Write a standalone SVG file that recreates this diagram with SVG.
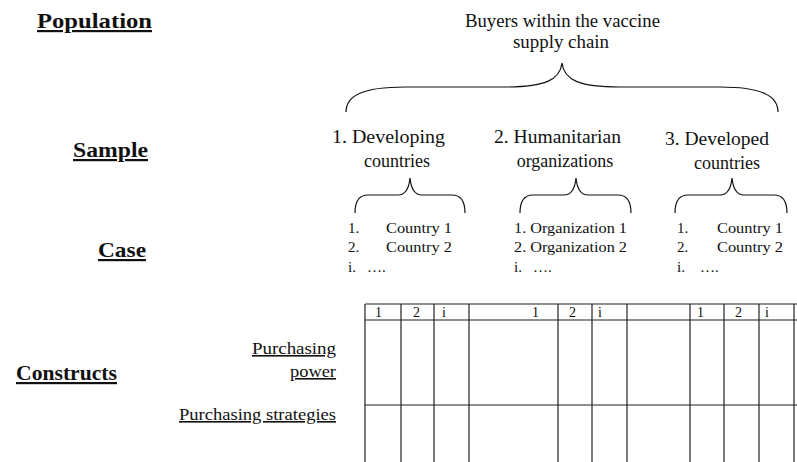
<svg xmlns="http://www.w3.org/2000/svg" width="797" height="462" viewBox="0 0 797 462">
<style>
  text { font-family: "Liberation Serif", "Times New Roman", serif; fill: #111; }
  .lbl { font-weight: bold; font-size: 22px; text-decoration: underline; }
  .con { font-size: 16px; text-decoration: underline; }
  .node { font-size: 18px; }
  .item { font-size: 15px; }
  .hdr { font-size: 14px; }
  .brace { fill: none; stroke: #111; stroke-width: 1.2; }
  .grid line { stroke: #222; stroke-width: 1.2; }
</style>
<rect width="797" height="462" fill="#fff"/>

<g id="row-labels">
  <text class="lbl" x="37" y="28" textLength="115" lengthAdjust="spacingAndGlyphs">Population</text>
  <text class="lbl" x="73" y="157" textLength="75" lengthAdjust="spacingAndGlyphs">Sample</text>
  <text class="lbl" x="98" y="257" textLength="48" lengthAdjust="spacingAndGlyphs">Case</text>
  <text class="lbl" x="16" y="380" textLength="101" lengthAdjust="spacingAndGlyphs">Constructs</text>
</g>

<g id="population">
  <text class="node" x="465" y="27" textLength="195" lengthAdjust="spacingAndGlyphs">Buyers within the vaccine</text>
  <text class="node" x="513" y="48" textLength="96" lengthAdjust="spacingAndGlyphs">supply chain</text>
</g>

<g id="sample-developing">
  <text class="node" x="332" y="143" textLength="113" lengthAdjust="spacingAndGlyphs">1. Developing</text>
  <text class="node" x="397" y="167" text-anchor="middle">countries</text>
</g>
<g id="sample-humanitarian">
  <text class="node" x="494" y="143" textLength="127" lengthAdjust="spacingAndGlyphs">2. Humanitarian</text>
  <text class="node" x="565" y="167" text-anchor="middle">organizations</text>
</g>
<g id="sample-developed">
  <text class="node" x="665" y="145" textLength="104" lengthAdjust="spacingAndGlyphs">3. Developed</text>
  <text class="node" x="727" y="169" text-anchor="middle">countries</text>
</g>

<g id="case-developing">
  <text class="item" x="348" y="233">1.</text>
  <text class="item" x="386" y="233" textLength="66" lengthAdjust="spacingAndGlyphs">Country 1</text>
  <text class="item" x="348" y="252">2.</text>
  <text class="item" x="386" y="252" textLength="66" lengthAdjust="spacingAndGlyphs">Country 2</text>
  <text class="item" x="348" y="272">i.</text>
  <text class="item" x="367" y="272">….</text>
</g>
<g id="case-humanitarian">
  <text class="item" x="514" y="233" textLength="113" lengthAdjust="spacingAndGlyphs">1. Organization 1</text>
  <text class="item" x="514" y="252" textLength="113" lengthAdjust="spacingAndGlyphs">2. Organization 2</text>
  <text class="item" x="514" y="272">i.</text>
  <text class="item" x="533" y="272">….</text>
</g>
<g id="case-developed">
  <text class="item" x="677" y="233">1.</text>
  <text class="item" x="717" y="233" textLength="66" lengthAdjust="spacingAndGlyphs">Country 1</text>
  <text class="item" x="677" y="252">2.</text>
  <text class="item" x="717" y="252" textLength="66" lengthAdjust="spacingAndGlyphs">Country 2</text>
  <text class="item" x="677" y="272">i.</text>
  <text class="item" x="700" y="272">….</text>
</g>

<g id="constructs">
  <text class="con" x="336" y="354" text-anchor="end" textLength="84" lengthAdjust="spacingAndGlyphs">Purchasing</text>
  <text class="con" x="336" y="377" text-anchor="end" textLength="46" lengthAdjust="spacingAndGlyphs">power</text>
  <text class="con" x="179" y="420" textLength="157" lengthAdjust="spacingAndGlyphs">Purchasing strategies</text>
</g>

<g id="connectors">
  <path class="brace" d="M346,112 C346,96 362,87 405,87 L505,87 C545,87 560,80 562,63 C564,80 579,87 620,87 L720,87 C762,87 778,96 778,112"/>
  <path class="brace" d="M355,213 C355,202 358,195 368,195 L398,195 C406,195 409,188 410,178 C411,188 414,195 422,195 L452,195 C462,195 465,202 465,213"/>
  <path class="brace" d="M520,213 C520,202 523,195 533,195 L564,195 C572,195 575,188 576,178 C577,188 580,195 588,195 L618,195 C628,195 631,202 631,213"/>
  <path class="brace" d="M675,213 C675,202 678,195 688,195 L720,195 C728,195 731,188 732,178 C733,188 736,195 744,195 L774,195 C784,195 787,202 787,213"/>
</g>

<g id="table" class="grid">
  <line x1="365" y1="304" x2="797" y2="304"/>
  <line x1="365" y1="320" x2="797" y2="320"/>
  <line x1="365" y1="405" x2="797" y2="405"/>
  <line x1="365" y1="304" x2="365" y2="462"/>
  <line x1="401" y1="304" x2="401" y2="462"/>
  <line x1="434" y1="304" x2="434" y2="462"/>
  <line x1="469" y1="304" x2="469" y2="462"/>
  <line x1="558" y1="304" x2="558" y2="462"/>
  <line x1="592" y1="304" x2="592" y2="462"/>
  <line x1="627" y1="304" x2="627" y2="462"/>
  <line x1="690" y1="304" x2="690" y2="462"/>
  <line x1="724" y1="304" x2="724" y2="462"/>
  <line x1="759" y1="304" x2="759" y2="462"/>
  <line x1="794" y1="304" x2="794" y2="462"/>
</g>
<g id="table-header">
  <text class="hdr" x="375" y="317">1</text>
  <text class="hdr" x="413" y="317">2</text>
  <text class="hdr" x="442" y="317">i</text>
  <text class="hdr" x="532" y="317">1</text>
  <text class="hdr" x="569" y="317">2</text>
  <text class="hdr" x="598" y="317">i</text>
  <text class="hdr" x="697" y="317">1</text>
  <text class="hdr" x="735" y="317">2</text>
  <text class="hdr" x="765" y="317">i</text>
</g>
</svg>
